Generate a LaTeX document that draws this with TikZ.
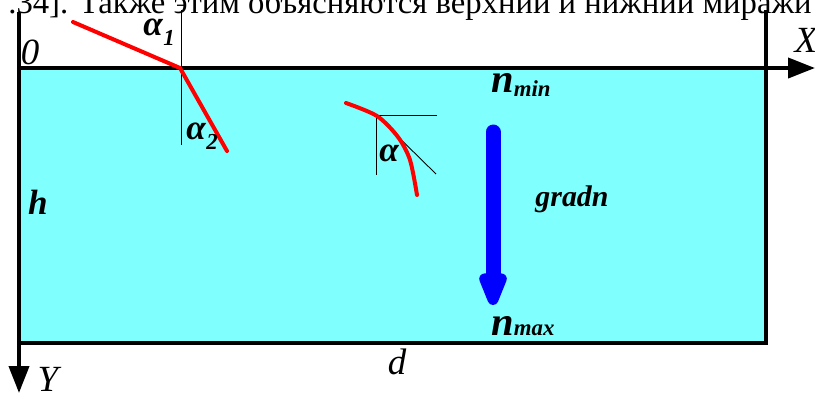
\documentclass[tikz,border=0pt]{standalone}
\usepackage{fontspec}
\setmainfont{Liberation Serif}
\usetikzlibrary{arrows.meta}
\definecolor{water}{HTML}{80FFFF}
\tikzset{wall/.style={line width=0.08cm, line cap=rect},
axisline/.style={line width=0.08cm, -{Triangle[length=0.54cm, width=0.4cm]}},
ray/.style={red, line width=0.08cm, line cap=round, line join=round},
normalline/.style={line width=0.5pt},
lbl/.style={inner sep=0pt, font=\fontsize{21}{21}\selectfont\itshape},
blbl/.style={inner sep=0pt, font=\fontsize{20}{20}\selectfont\bfseries\itshape},
nlbl/.style={inner sep=0pt, anchor=base west, font=\fontsize{23}{23}\selectfont\bfseries\itshape},
gradarrow/.style={blue, line width=0.3cm, line cap=round, -{Triangle[length=0.86cm, width=0.58cm, round]}}}
\newcommand{\idx}[1]{{\fontsize{13}{13}\selectfont #1}}

\begin{document}
\begin{tikzpicture}[x=0.02cm, y=-0.02cm]
  \useasboundingbox (0,0) rectangle (815,400);
  \clip (0,0) rectangle (815,400);
  % text line above, cut off
  \node[anchor=base east, inner sep=0pt, font=\fontsize{18.6}{22}\selectfont] (cap) at (812,13)
    {.34]. Также этим объясняются верхний и нижний миражи};
  % layer
  \fill[water] (19,68) rectangle (766,343);
  \coordinate (o) at (19,68);
  \coordinate (ytop) at (19,12);
  \coordinate (yend) at (19,393);
  \coordinate (xend) at (815,68);
  \coordinate (lb) at (19,343);
  \coordinate (rb) at (766,343);
  \coordinate (rtop) at (766,12);
  \draw[wall] (lb) -- (rb) -- (rtop);
  \draw[axisline] (ytop) -- (yend);
  \draw[axisline] (o) -- (xend);
  % refraction at the surface
  \coordinate (r0) at (73,22);
  \coordinate (r1) at (180,68);
  \coordinate (r2) at (227,151);
  \coordinate (m0) at (181,10);
  \coordinate (m1) at (181,145);
  \draw[normalline] (m0) -- (m1);
  \draw[ray] (r0) -- (r1) -- (r2);
  \node[blbl] (a1) at (153,27) {α};
  \node[blbl, anchor=west] (a1i) at ([yshift=-1pt]a1.south east) {\idx{1}};
  \node[blbl] (a2) at (196,131) {α};
  \node[blbl, anchor=west] (a2i) at ([yshift=-1pt]a2.south east) {\idx{2}};
  % bent ray inside
  \coordinate (t0) at (376,115);
  \coordinate (th) at (437,115);
  \coordinate (tv) at (376,175);
  \coordinate (td) at (436,174);
  \draw[normalline] (th) -- (t0) -- (tv);
  \draw[normalline] (t0) -- (td);
  \draw[ray] plot[smooth] coordinates {(346,103) (377,116) (398,137) (410,160) (417,195)};
  \node[blbl] (a) at (389,153) {α};
  % gradient
  \coordinate (gtop) at (493,132);
  \coordinate (gtip) at (493,305);
  \draw[gradarrow] (gtop) -- (gtip);
  \node[nlbl] (nmin) at (491,92) {n\raisebox{-2.8pt}{\idx{min}}};
  \node[nlbl] (nmax) at (491,335) {n\idx{max}};
  \node[blbl, font=\fontsize{17}{17}\selectfont\bfseries\itshape] (grad) at (572,199) {gradn};
  % axes labels
  \node[lbl] (zero) at (30,52) {0};
  \node[lbl] (xl) at (806,40) {X};
  \node[lbl] (yl) at (48,379) {Y};
  \node[blbl] (hl) at (38,202) {h};
  \node[lbl] (dl) at (397,362) {d};
\end{tikzpicture}
\end{document}
